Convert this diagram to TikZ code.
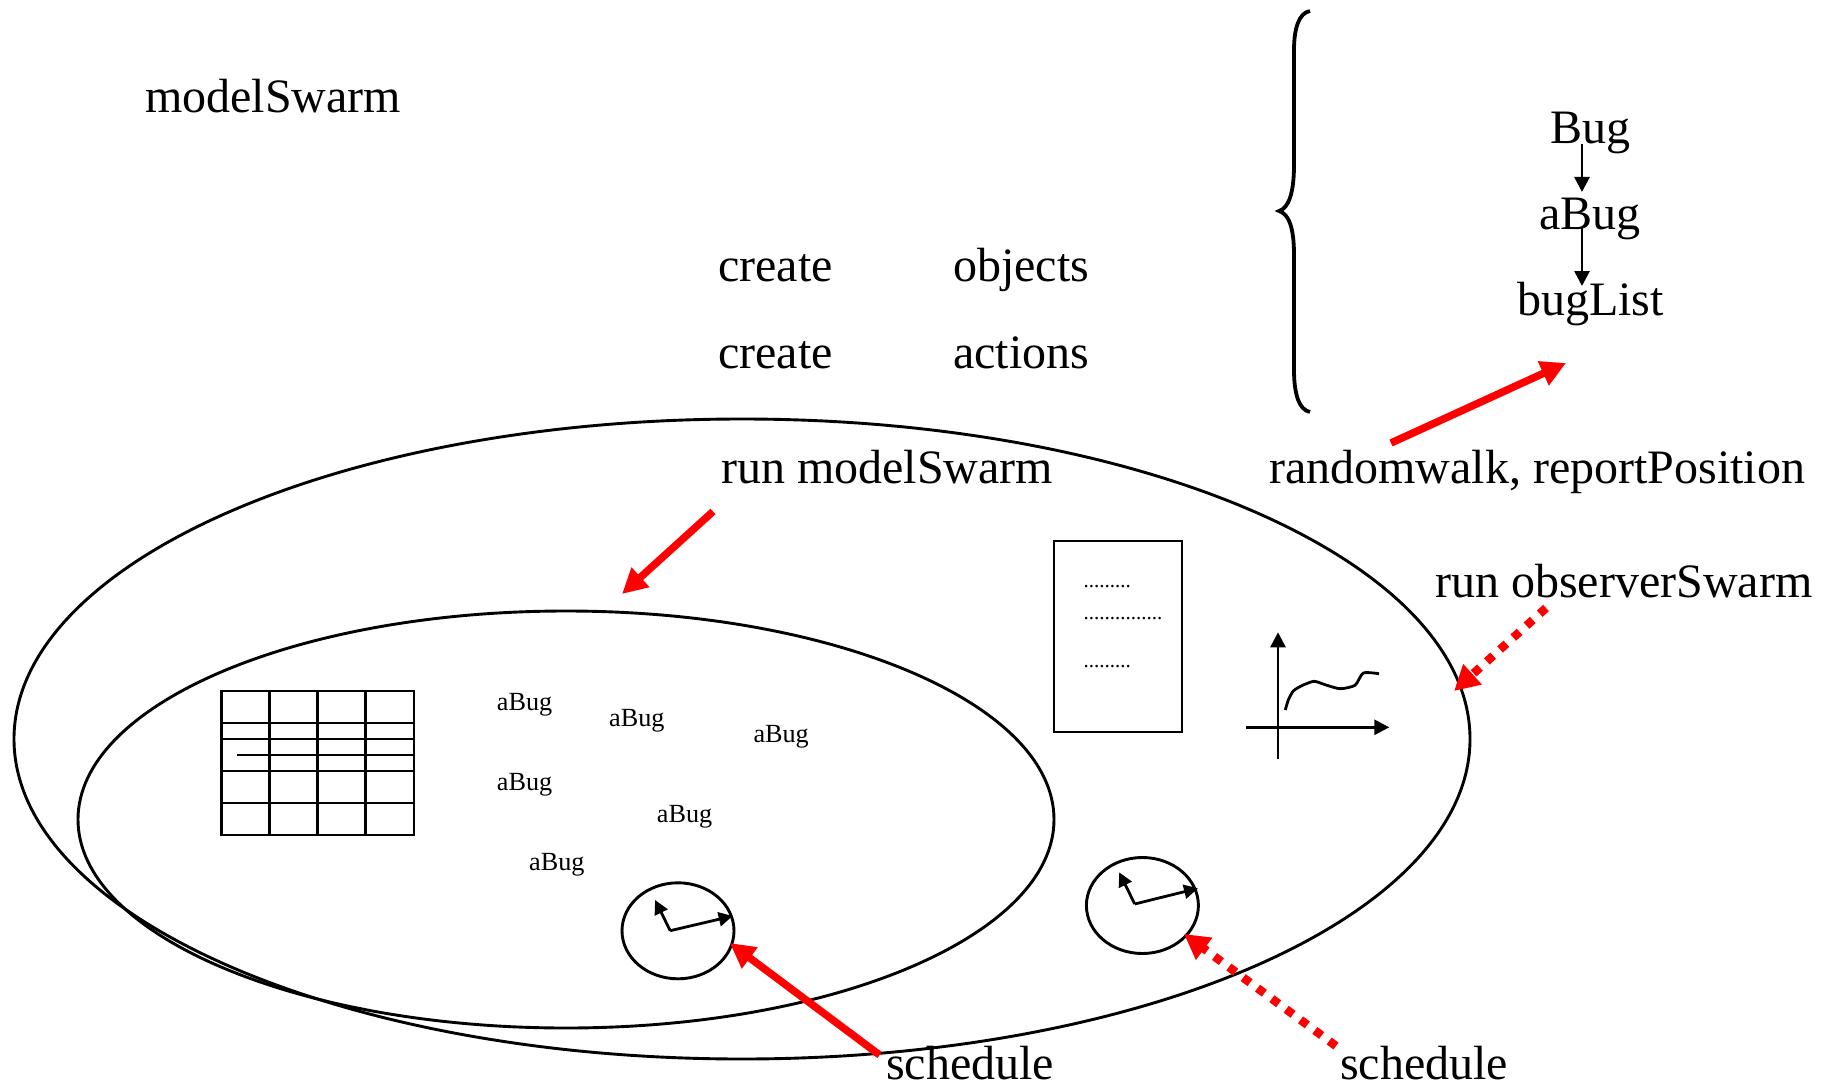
\documentclass[tikz,border=0pt]{standalone}
\usepackage{fontspec}
\setmainfont{Liberation Serif}
\usetikzlibrary{arrows.meta,shapes.geometric}
\tikzset{
  big/.style={inner sep=0pt,anchor=base west,font=\fontsize{48}{48}\selectfont},
  small/.style={inner sep=0pt,anchor=base west,font=\fontsize{26.2}{26.2}\selectfont},
  dots/.style={inner sep=0pt,anchor=base west,font=\fontsize{21}{21}\selectfont},
  ring/.style={draw,ellipse,line width=2.9pt,inner sep=0pt,outer sep=0pt},
  ink/.style={line width=2.8pt},
  thin arrow/.style={line width=2.8pt,-{Triangle[length=15pt,width=15pt]}},
  hand/.style={line width=2.8pt,-{Triangle[length=14pt,width=14pt]}},
  redsolid/.style={red,line width=7.5pt,-{Triangle[length=25pt,width=25pt]}},
  reddot/.style={red,line width=8.5pt,dash pattern=on 8.5pt off 9.3pt,-{Triangle[length=25pt,width=26pt]}}
}
\begin{document}
\begin{tikzpicture}[x=1pt,y=-1pt]
\useasboundingbox (0,0) rectangle (1827,1086);
% ellipses
\node[ring,minimum width=1456pt,minimum height=640pt] (outer) at (742,739) {};
\node[ring,minimum width=976pt,minimum height=417pt] (inner) at (566,819.5) {};
% texts
\node[big] (model) at (145,113) {modelSwarm};
\node[big] (create1) at (718,281) {create};
\node[big] (objects) at (953,281) {objects};
\node[big] (create2) at (718,368) {create};
\node[big] (actions) at (953,368) {actions};
\node[big] (runmodel) at (721,483) {run modelSwarm};
\node[big] (walk) at (1269,483) {randomwalk, reportPosition};
\node[big] (runobs) at (1435,597) {run observerSwarm};
\node[big] (sched1) at (886,1079) {schedule};
\node[big] (sched2) at (1340,1079) {schedule};
\node[big] (bug) at (1550,144) {Bug};
\node[big] (abug) at (1539,229) {aBug};
\node[big] (buglist) at (1517,315) {bugList};
% hierarchy arrows
\coordinate (b1) at (1582,144); \coordinate (b2) at (1582,192);
\coordinate (b3) at (1582,227); \coordinate (b4) at (1582,286);
\draw[thin arrow] (b1) -- (b2);
\draw[thin arrow] (b3) -- (b4);
% brace
\draw[line width=3.8pt] (1310,11) .. controls (1299,13) and (1294,28) .. (1294,50)
  -- (1294,165) .. controls (1294,192) and (1289,208) .. (1279,211)
  .. controls (1289,214) and (1294,228) .. (1294,255)
  -- (1294,370) .. controls (1294,394) and (1299,410) .. (1310,412);
% grid
\draw[ink] (221.7,691) rectangle (414,835);
\foreach \xx in {269.3,317.3,365.3} \draw[ink] (\xx,691) -- (\xx,835);
\foreach \yy in {723,739,771,803} \draw[ink] (221.7,\yy) -- (414,\yy);
\draw[ink] (237.3,755) -- (414,755);
% small labels
\node[small] (a1) at (496.7,710) {aBug};
\node[small] (a2) at (609,726) {aBug};
\node[small] (a3) at (753.3,742) {aBug};
\node[small] (a4) at (496.7,790) {aBug};
\node[small] (a5) at (656.7,822) {aBug};
\node[small] (a6) at (529,870) {aBug};
% document
\draw[ink] (1054,541) rectangle (1182,732);
\node[dots] (d1) at (1083.5,587) {.........};
\node[dots] (d2) at (1083.5,619) {...............};
\node[dots] (d3) at (1083.5,667) {.........};
% graph
\coordinate (gv0) at (1278,758.7); \coordinate (gv1) at (1278,632.3);
\coordinate (gh0) at (1246,727.3); \coordinate (gh1) at (1389.3,727.3);
\draw[thin arrow] (gv0) -- (gv1);
\draw[thin arrow] (gh0) -- (gh1);
\draw[line width=2.8pt,line join=round] plot[smooth,tension=0.4] coordinates {(1285.3,710) (1288.3,700) (1293.3,691) (1301.7,685.7) (1314,681.3) (1325,684.7) (1340,688.7) (1355,685.3) (1363.3,673) (1379,673.7)};
% clocks
\node[ring,minimum width=112pt,minimum height=96pt] (clock1) at (678,930.8) {};
\coordinate (c1) at (670.2,930.7); \coordinate (c1l) at (732.7,916); \coordinate (c1s) at (655.1,900);
\draw[hand] (c1) -- (c1l);
\draw[hand] (c1) -- (c1s);
\node[ring,minimum width=112pt,minimum height=96pt] (clock2) at (1142.4,905.5) {};
\coordinate (c2) at (1134.7,904); \coordinate (c2l) at (1198,888.3); \coordinate (c2s) at (1119.2,872.3);
\draw[hand] (c2) -- (c2l);
\draw[hand] (c2) -- (c2s);
% red arrows
\coordinate (r1a) at (1391,443); \coordinate (r1b) at (1566,363);
\coordinate (r2a) at (713,511.5); \coordinate (r2b) at (622,594);
\coordinate (r3a) at (1546,608); \coordinate (r3b) at (1454,691);
\coordinate (r4a) at (879.6,1055); \coordinate (r4b) at (729.8,943);
\coordinate (r5a) at (1336,1046); \coordinate (r5b) at (1184,934);
\draw[redsolid] (r1a) -- (r1b);
\draw[redsolid] (r2a) -- (r2b);
\draw[reddot] (r3a) -- (r3b);
\draw[redsolid] (r4a) -- (r4b);
\draw[reddot] (r5a) -- (r5b);
\end{tikzpicture}
\end{document}
